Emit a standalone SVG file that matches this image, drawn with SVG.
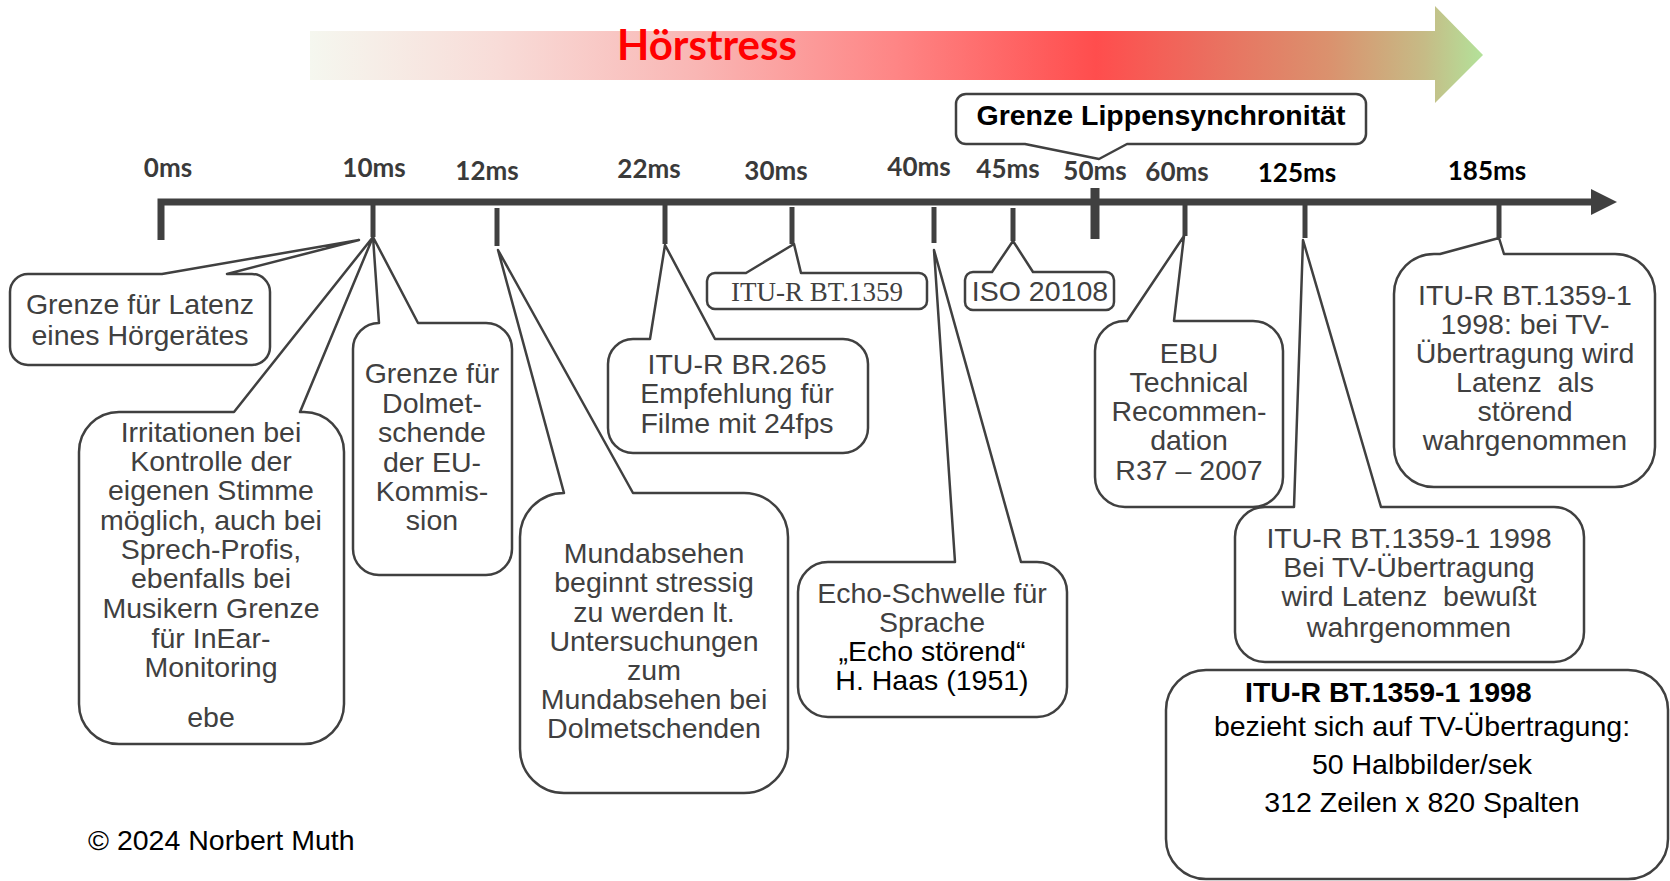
<svg xmlns="http://www.w3.org/2000/svg" width="1670" height="881" viewBox="0 0 1670 881">
<defs>
<linearGradient id="hs" gradientUnits="userSpaceOnUse" x1="310" y1="0" x2="1483" y2="0">
<stop offset="0" stop-color="#f5f7ef"/>
<stop offset="0.16" stop-color="#f8dcd8"/>
<stop offset="0.33" stop-color="#f9b6b4"/>
<stop offset="0.5" stop-color="#fe8585"/>
<stop offset="0.67" stop-color="#ff4d4d"/>
<stop offset="0.76" stop-color="#ec6c5e"/>
<stop offset="0.87" stop-color="#da926e"/>
<stop offset="0.95" stop-color="#c6bb86"/>
<stop offset="1" stop-color="#b3e29a"/>
</linearGradient>
<style>
.box{fill:#fff;stroke:#404040;stroke-width:2.5;stroke-linejoin:round}
.t{font-family:"Liberation Sans",Arial,sans-serif;font-size:28.5px;fill:#404040;text-anchor:middle;white-space:pre}
.k{fill:#000}
.b{font-weight:bold}
.lbl{font-family:Lato,"Liberation Sans",sans-serif;font-weight:bold;font-size:26px;fill:#3a3a3a;text-anchor:middle}
.tick{stroke:#404040;stroke-width:5;fill:none}
</style>
</defs>
<rect width="1670" height="881" fill="#fff"/>

<g id="hoerstress">
<path d="M310,31 L1435,31 L1435,6 L1483,55 L1435,103 L1435,80 L310,80 Z" fill="url(#hs)"/>
<text x="707" y="60" font-family="Lato,'Liberation Sans',sans-serif" font-weight="bold" font-size="42" fill="#ff0000" text-anchor="middle">Hörstress</text>
</g>

<g id="connectors">
<path d="M161,240 L161,202 L1595,202" stroke="#404040" stroke-width="7" fill="none"/>
<polygon points="1591,189 1617,202 1591,215" fill="#404040"/>
<line class="tick" x1="373" y1="202" x2="373" y2="237"/>
<line class="tick" x1="497" y1="208" x2="497" y2="246"/>
<line class="tick" x1="665" y1="205" x2="665" y2="244"/>
<line class="tick" x1="792" y1="207" x2="792" y2="244"/>
<line class="tick" x1="934" y1="207" x2="934" y2="243"/>
<line class="tick" x1="1013" y1="208" x2="1013" y2="241"/>
<line x1="1095" y1="188" x2="1095" y2="239" stroke="#404040" stroke-width="9"/>
<line class="tick" x1="1185" y1="205" x2="1185" y2="236"/>
<line class="tick" x1="1305" y1="205" x2="1305" y2="238"/>
<line class="tick" x1="1499" y1="205" x2="1499" y2="238"/>
</g>

<g id="labels">
<text class="lbl" x="168" y="177">0ms</text>
<text class="lbl" x="374" y="177">10ms</text>
<text class="lbl" x="487" y="180">12ms</text>
<text class="lbl" x="649" y="178">22ms</text>
<text class="lbl" x="776" y="180">30ms</text>
<text class="lbl" x="919" y="176">40ms</text>
<text class="lbl" x="1008" y="178">45ms</text>
<text class="lbl" x="1095" y="180">50ms</text>
<text class="lbl" x="1177" y="181">60ms</text>
<text class="lbl" x="1297" y="182" style="fill:#000">125ms</text>
<text class="lbl" x="1487" y="180" style="fill:#000">185ms</text>
</g>

<g id="lippen">
<path class="box" d="M966,94 L1356,94 A10,10 0 0 1 1366,104 L1366,134 A10,10 0 0 1 1356,144 L1127,144 L1099,159 L1025,144 L966,144 A10,10 0 0 1 956,134 L956,104 A10,10 0 0 1 966,94 Z"/>
<text class="t k b" x="1161" y="125">Grenze Lippensynchronität</text>
</g>

<g id="irritationen">
<path class="box" d="M119,412 L234,412 L373,237 L300,412 L304,412 A40,40 0 0 1 344,452 L344,704 A40,40 0 0 1 304,744 L119,744 A40,40 0 0 1 79,704 L79,452 A40,40 0 0 1 119,412 Z"/>
<text class="t" x="211" y="442">Irritationen bei</text>
<text class="t" x="211" y="471">Kontrolle der</text>
<text class="t" x="211" y="500">eigenen Stimme</text>
<text class="t" x="211" y="530">möglich, auch bei</text>
<text class="t" x="211" y="559">Sprech-Profis,</text>
<text class="t" x="211" y="588">ebenfalls bei</text>
<text class="t" x="211" y="618">Musikern Grenze</text>
<text class="t" x="211" y="648">für InEar-</text>
<text class="t" x="211" y="677">Monitoring</text>
<text class="t" x="211" y="727">ebe</text>
</g>

<g id="latenz">
<path class="box" d="M28,274 L162,274 L359,240 L227,274 L252,274 A18,18 0 0 1 270,292 L270,347 A18,18 0 0 1 252,365 L28,365 A18,18 0 0 1 10,347 L10,292 A18,18 0 0 1 28,274 Z"/>
<text class="t" x="140" y="314">Grenze für Latenz</text>
<text class="t" x="140" y="345">eines Hörgerätes</text>
</g>

<g id="dolmetschende">
<path class="box" d="M379,323 L373,237 L418,323 L486,323 A26,26 0 0 1 512,349 L512,549 A26,26 0 0 1 486,575 L379,575 A26,26 0 0 1 353,549 L353,349 A26,26 0 0 1 379,323 Z"/>
<text class="t" x="432" y="383">Grenze für</text>
<text class="t" x="432" y="413">Dolmet-</text>
<text class="t" x="432" y="442">schende</text>
<text class="t" x="432" y="472">der EU-</text>
<text class="t" x="432" y="501">Kommis-</text>
<text class="t" x="432" y="530">sion</text>
</g>

<g id="mundabsehen">
<path class="box" d="M564,493 L498,250 L633,493 L744,493 A44,44 0 0 1 788,537 L788,749 A44,44 0 0 1 744,793 L564,793 A44,44 0 0 1 520,749 L520,537 A44,44 0 0 1 564,493 Z"/>
<text class="t" x="654" y="563">Mundabsehen</text>
<text class="t" x="654" y="592">beginnt stressig</text>
<text class="t" x="654" y="622">zu werden lt.</text>
<text class="t" x="654" y="651">Untersuchungen</text>
<text class="t" x="654" y="680">zum</text>
<text class="t" x="654" y="709">Mundabsehen bei</text>
<text class="t" x="654" y="738">Dolmetschenden</text>
</g>

<g id="br265">
<path class="box" d="M633,339 L650,339 L665,245 L715,339 L843,339 A25,25 0 0 1 868,364 L868,428 A25,25 0 0 1 843,453 L633,453 A25,25 0 0 1 608,428 L608,364 A25,25 0 0 1 633,339 Z"/>
<text class="t" x="737" y="374">ITU-R BR.265</text>
<text class="t" x="737" y="403">Empfehlung für</text>
<text class="t" x="737" y="433">Filme mit 24fps</text>
</g>

<g id="bt1359">
<path class="box" d="M715,273 L746,273 L794,244 L801,273 L919,273 A8,8 0 0 1 927,281 L927,301 A8,8 0 0 1 919,309 L715,309 A8,8 0 0 1 707,301 L707,281 A8,8 0 0 1 715,273 Z"/>
<text class="t" x="817" y="301" style="font-family:'Liberation Serif','Times New Roman',serif;font-size:27px">ITU-R BT.1359</text>
</g>

<g id="iso20108">
<path class="box" d="M973,272 L992,272 L1013,241 L1033,272 L1106,272 A8,8 0 0 1 1114,280 L1114,302 A8,8 0 0 1 1106,310 L973,310 A8,8 0 0 1 965,302 L965,280 A8,8 0 0 1 973,272 Z"/>
<text class="t" x="1040" y="301">ISO 20108</text>
</g>

<g id="echo">
<path class="box" d="M828,562 L955,562 L934,250 L1021,562 L1037,562 A30,30 0 0 1 1067,592 L1067,687 A30,30 0 0 1 1037,717 L828,717 A30,30 0 0 1 798,687 L798,592 A30,30 0 0 1 828,562 Z"/>
<text class="t" x="932" y="603">Echo-Schwelle für</text>
<text class="t" x="932" y="632">Sprache</text>
<text class="t k" x="932" y="661">„Echo störend“</text>
<text class="t k" x="932" y="690">H. Haas (1951)</text>
</g>

<g id="ebu">
<path class="box" d="M1125,321 L1127,321 L1184,236 L1174,321 L1253,321 A30,30 0 0 1 1283,351 L1283,477 A30,30 0 0 1 1253,507 L1125,507 A30,30 0 0 1 1095,477 L1095,351 A30,30 0 0 1 1125,321 Z"/>
<text class="t" x="1189" y="363">EBU</text>
<text class="t" x="1189" y="392">Technical</text>
<text class="t" x="1189" y="421">Recommen-</text>
<text class="t" x="1189" y="450">dation</text>
<text class="t" x="1189" y="480">R37 – 2007</text>
</g>

<g id="bewusst">
<path class="box" d="M1265,507 L1294,507 L1303,240 L1381,507 L1554,507 A30,30 0 0 1 1584,537 L1584,632 A30,30 0 0 1 1554,662 L1265,662 A30,30 0 0 1 1235,632 L1235,537 A30,30 0 0 1 1265,507 Z"/>
<text class="t" x="1409" y="548">ITU-R BT.1359-1 1998</text>
<text class="t" x="1409" y="577">Bei TV-Übertragung</text>
<text class="t" x="1409" y="606">wird Latenz  bewußt</text>
<text class="t" x="1409" y="637">wahrgenommen</text>
</g>

<g id="stoerend">
<path class="box" d="M1434,254 L1440,254 L1499,238 L1504,254 L1615,254 A40,40 0 0 1 1655,294 L1655,447 A40,40 0 0 1 1615,487 L1434,487 A40,40 0 0 1 1394,447 L1394,294 A40,40 0 0 1 1434,254 Z"/>
<text class="t" x="1525" y="305">ITU-R BT.1359-1</text>
<text class="t" x="1525" y="334">1998: bei TV-</text>
<text class="t" x="1525" y="363">Übertragung wird</text>
<text class="t" x="1525" y="392">Latenz  als</text>
<text class="t" x="1525" y="421">störend</text>
<text class="t" x="1525" y="450">wahrgenommen</text>
</g>

<g id="tv-info">
<rect class="box" x="1166" y="670" width="502" height="209" rx="40" ry="40"/>
<text class="t k b" x="1245" y="702" style="text-anchor:start">ITU-R BT.1359-1 1998</text>
<text class="t k" x="1422" y="736">bezieht sich auf TV-Übertragung:</text>
<text class="t k" x="1422" y="774">50 Halbbilder/sek</text>
<text class="t k" x="1422" y="812">312 Zeilen x 820 Spalten</text>
</g>

<g id="copyright">
<text class="t k" x="88" y="850" style="text-anchor:start">© 2024 Norbert Muth</text>
</g>
</svg>
